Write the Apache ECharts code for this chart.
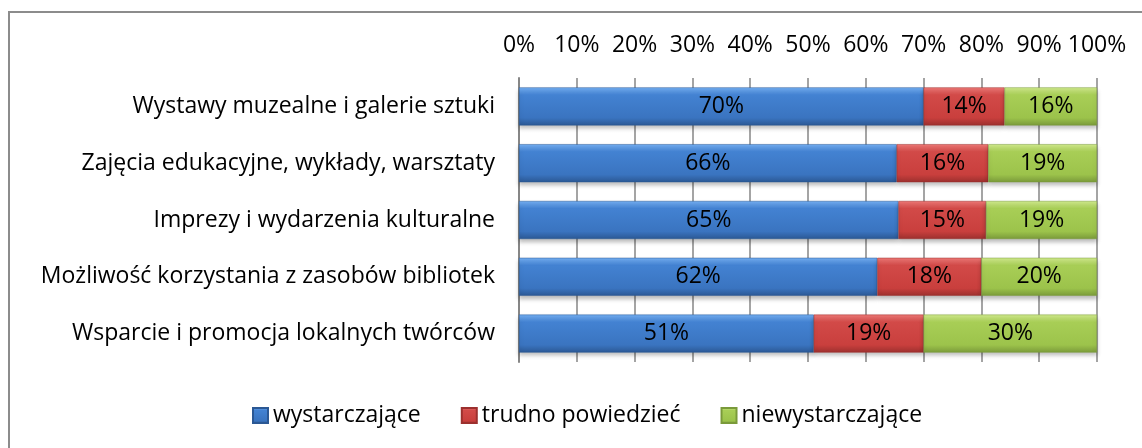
<!DOCTYPE html>
<html>
<head>
<meta charset="utf-8">
<script src="https://cdn.jsdelivr.net/npm/echarts@6/dist/echarts.min.js"></script>
<style>
  html, body { margin: 0; padding: 0; background: #fff; }
  #chart { width: 1142px; height: 448px; }
</style>
</head>
<body>
<div id="chart"></div>
<script>
// dane z wykresu
const categories = [
  'Wystawy muzealne i galerie sztuki',
  'Zajęcia edukacyjne, wykłady, warsztaty',
  'Imprezy i wydarzenia kulturalne',
  'Możliwość korzystania z zasobów bibliotek',
  'Wsparcie i promocja lokalnych twórców'
]
const seriesNames = ['wystarczające', 'trudno powiedzieć', 'niewystarczające']
const enough = [70, 66, 65, 62, 51]
const hardToSay = [14, 16, 15, 18, 19]
const notEnough = [16, 19, 19, 20, 30]
const tickLabels = ['0%', '10%', '20%', '30%', '40%', '50%', '60%', '70%', '80%', '90%', '100%']

const FONT = 'Open Sans'
const FS = 23
const raw = [enough, hardToSay, notEnough]
// 100% skumulowane, jak w Excelu
const totals = categories.map((c, i) => raw.reduce((s, arr) => s + arr[i], 0))

const gradients = [
  ['#74b0f4', '#4382d2', '#3a74c0', '#2b5894'],
  ['#f07a78', '#d24a48', '#c93f3d', '#9c302e'],
  ['#d2ec8e', '#a8ce56', '#9cc34b', '#7a9a3a']
]
function fill(g) {
  return new echarts.graphic.LinearGradient(0, 0, 0, 1, [
    { offset: 0, color: g[0] },
    { offset: 0.2, color: g[1] },
    { offset: 0.8, color: g[2] },
    { offset: 1, color: g[3] }
  ])
}

const series = raw.map((arr, k) => ({
  name: seriesNames[k],
  type: 'bar',
  stack: 'total',
  barWidth: 38,
  data: arr.map((v, i) => v / totals[i] * 100),
  itemStyle: {
    color: fill(gradients[k]),
    borderColor: gradients[k][3],
    borderWidth: 0.5,
    shadowColor: 'rgba(0,0,0,0.25)',
    shadowBlur: 4,
    shadowOffsetY: 3
  },
  label: {
    show: true,
    position: 'inside',
    color: '#000',
    fontFamily: FONT,
    fontSize: FS,
    formatter: p => arr[p.dataIndex] + '%'
  }
}))

const chart = echarts.init(document.getElementById('chart'))
chart.setOption({
  animation: false,
  backgroundColor: '#fff',
  textStyle: { fontFamily: FONT },
  graphic: [{
    type: 'rect',
    shape: { x: 9, y: 12, width: 1300, height: 600 },
    style: { fill: 'none', stroke: '#8c8c8c', lineWidth: 2 },
    silent: true
  }],
  grid: { left: 519, right: 45, top: 78, bottom: 86 },
  xAxis: {
    type: 'value',
    position: 'top',
    min: 0,
    max: 100,
    interval: 10,
    axisLine: { show: false },
    axisTick: { show: false },
    splitLine: { lineStyle: { color: '#868686', width: 1.5 } },
    axisLabel: {
      margin: 21,
      color: '#000',
      fontFamily: FONT,
      fontSize: FS,
      formatter: v => tickLabels[Math.round(v / 10)]
    }
  },
  yAxis: {
    type: 'category',
    inverse: true,
    data: categories,
    axisLine: { show: true, lineStyle: { color: '#868686', width: 2 } },
    axisTick: { show: false },
    axisLabel: {
      margin: 24,
      color: '#000',
      fontFamily: FONT,
      fontSize: FS
    }
  },
  legend: {
    data: seriesNames,
    left: 247,
    top: 399,
    icon: 'rect',
    itemWidth: 15,
    itemHeight: 15,
    itemGap: 40,
    textStyle: { fontFamily: FONT, fontSize: FS, color: '#000' }
  },
  series
})
</script>
</body>
</html>
